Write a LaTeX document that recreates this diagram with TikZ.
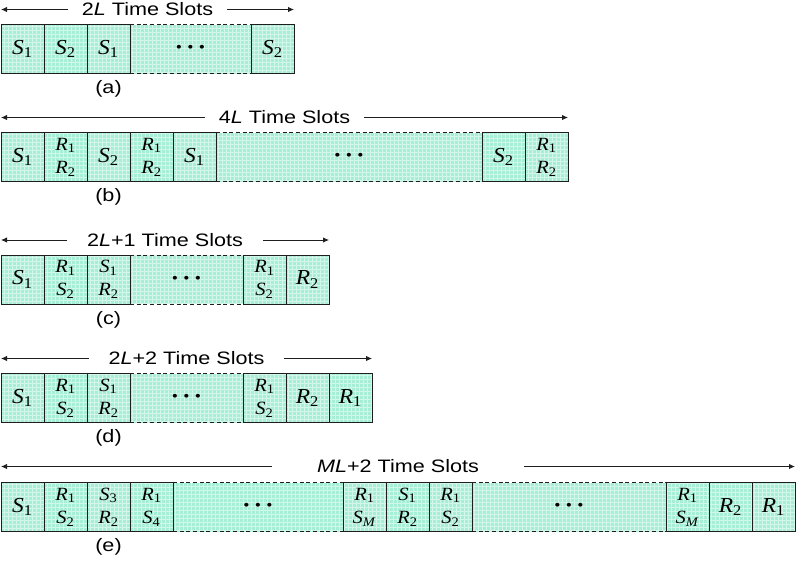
\documentclass[tikz,border=0pt]{standalone}
\usepackage{fontspec}
\setmainfont[FakeStretch=1.2]{Liberation Sans}
\newfontfamily\tnr[FakeStretch=1.1]{Liberation Serif}
\usetikzlibrary{arrows.meta,positioning}
\definecolor{slotfill}{RGB}{166,238,214}
\definecolor{slotline}{RGB}{30,30,30}
\newcommand{\px}{0.75pt}
\newcommand{\sy}[2]{\textit{#1}\textsubscript{#2}}
\newcommand{\slotdots}{{\fontsize{12}{12}\selectfont\tnr\textbullet\hspace{4pt}\textbullet\hspace{4pt}\textbullet}}

\begin{document}
\begin{tikzpicture}[x=0.75pt, y=-0.75pt,
    cell/.style={rectangle, draw=slotline, line width=0.7pt, fill=slotfill,
                 minimum width=43*\px, minimum height=49*\px, inner sep=0pt, outer sep=0pt,
                 align=center, font=\tnr\fontsize{16}{18}\selectfont,
                 path picture={\draw[white, line width=0.35pt, opacity=0.5, step=3pt]
                   (path picture bounding box.south west) grid (path picture bounding box.north east);}},
    cell2/.style={cell, font=\tnr\fontsize{14}{17.5}\selectfont},
    gap/.style={cell, draw=none, minimum width=#1*\px},
    gapline/.style={draw=slotline, line width=0.7pt, dashed, dash pattern=on 3pt off 2pt},
    edgeline/.style={draw=slotline, line width=0.7pt},
    span/.style={{Latex[length=4.5pt,width=4pt]}-{Latex[length=4.5pt,width=4pt]}, line width=0.6pt, slotline},
    spanlabel/.style={fill=white, inner xsep=14*\px, inner ysep=1pt, text=black,
                      font=\fontsize{13.5}{15}\selectfont},
    caption/.style={font=\fontsize{13.5}{15}\selectfont, inner sep=0pt}
  ]
  \useasboundingbox (0,0) rectangle (796,565);

  % (a) 2L time slots
  \node[cell]                    (a1) at (22.5,49) {\sy{S}{1}};
  \node[cell, right=0pt of a1]   (a2) {\sy{S}{2}};
  \node[cell, right=0pt of a2]   (a3) {\sy{S}{1}};
  \node[gap=121, right=0pt of a3] (a4) {\slotdots};
  \node[cell, right=0pt of a4]   (a5) {\sy{S}{2}};
  \draw[gapline] (a4.north west) -- (a4.north east) (a4.south west) -- (a4.south east);
  \draw[edgeline] (a4.north west) -- (a4.south west);
  \draw[span] ([yshift=15*\px]a1.north west) -- node[spanlabel] {2\textit{L} Time Slots} ([yshift=15*\px]a5.north east);
  \node[caption] (capa) at ([yshift=-15.5*\px]a3.south) {(a)};

  % (b) 4L time slots
  \node[cell]                     (b1) at (22.5,157) {\sy{S}{1}};
  \node[cell2, right=0pt of b1]   (b2) {\sy{R}{1}\\\sy{R}{2}};
  \node[cell, right=0pt of b2]    (b3) {\sy{S}{2}};
  \node[cell2, right=0pt of b3]   (b4) {\sy{R}{1}\\\sy{R}{2}};
  \node[cell, right=0pt of b4]    (b5) {\sy{S}{1}};
  \node[gap=266, right=0pt of b5] (b6) {\slotdots};
  \node[cell, right=0pt of b6]    (b7) {\sy{S}{2}};
  \node[cell2, right=0pt of b7]   (b8) {\sy{R}{1}\\\sy{R}{2}};
  \draw[gapline] (b6.north west) -- (b6.north east) (b6.south west) -- (b6.south east);
  \draw[edgeline] (b6.north west) -- (b6.south west);
  \draw[span] ([yshift=15*\px]b1.north west) -- node[spanlabel] {4\textit{L} Time Slots} ([yshift=15*\px]b8.north east);
  \node[caption] (capb) at ([yshift=-15.5*\px]b3.south) {(b)};

  % (c) 2L+1 time slots
  \node[cell]                     (c1) at (22.5,279.5) {\sy{S}{1}};
  \node[cell2, right=0pt of c1]   (c2) {\sy{R}{1}\\\sy{S}{2}};
  \node[cell2, right=0pt of c2]   (c3) {\sy{S}{1}\\\sy{R}{2}};
  \node[gap=113, right=0pt of c3] (c4) {\slotdots};
  \node[cell2, right=0pt of c4]   (c5) {\sy{R}{1}\\\sy{S}{2}};
  \node[cell, right=0pt of c5]    (c6) {\sy{R}{2}};
  \draw[gapline] (c4.north west) -- (c4.north east) (c4.south west) -- (c4.south east);
  \draw[edgeline] (c4.north west) -- (c4.south west);
  \draw[span] ([yshift=15*\px]c1.north west) -- node[spanlabel, inner xsep=20*\px] {2\textit{L}+1 Time Slots} ([yshift=15*\px]c6.north east);
  \node[caption] (capc) at ([yshift=-15.5*\px]c3.south) {(c)};

  % (d) 2L+2 time slots
  \node[cell]                     (d1) at (22.5,398) {\sy{S}{1}};
  \node[cell2, right=0pt of d1]   (d2) {\sy{R}{1}\\\sy{S}{2}};
  \node[cell2, right=0pt of d2]   (d3) {\sy{S}{1}\\\sy{R}{2}};
  \node[gap=113, right=0pt of d3] (d4) {\slotdots};
  \node[cell2, right=0pt of d4]   (d5) {\sy{R}{1}\\\sy{S}{2}};
  \node[cell, right=0pt of d5]    (d6) {\sy{R}{2}};
  \node[cell, right=0pt of d6]    (d7) {\sy{R}{1}};
  \draw[gapline] (d4.north west) -- (d4.north east) (d4.south west) -- (d4.south east);
  \draw[edgeline] (d4.north west) -- (d4.south west);
  \draw[span] ([yshift=15*\px]d1.north west) -- node[spanlabel, inner xsep=20*\px] {2\textit{L}+2 Time Slots} ([yshift=15*\px]d7.north east);
  \node[caption] (capd) at ([yshift=-15.5*\px]d3.south) {(d)};

  % (e) ML+2 time slots
  \node[cell]                      (e1) at (22.5,507) {\sy{S}{1}};
  \node[cell2, right=0pt of e1]    (e2) {\sy{R}{1}\\\sy{S}{2}};
  \node[cell2, right=0pt of e2]    (e3) {\sy{S}{3}\\\sy{R}{2}};
  \node[cell2, right=0pt of e3]    (e4) {\sy{R}{1}\\\sy{S}{4}};
  \node[gap=170, right=0pt of e4]  (e5) {\slotdots};
  \node[cell2, right=0pt of e5]    (e6) {\sy{R}{1}\\\sy{S}{\textit{M}}};
  \node[cell2, right=0pt of e6]    (e7) {\sy{S}{1}\\\sy{R}{2}};
  \node[cell2, right=0pt of e7]    (e8) {\sy{R}{1}\\\sy{S}{2}};
  \node[gap=194, right=0pt of e8]  (e9) {\slotdots};
  \node[cell2, right=0pt of e9]    (e10) {\sy{R}{1}\\\sy{S}{\textit{M}}};
  \node[cell, right=0pt of e10]    (e11) {\sy{R}{2}};
  \node[cell, right=0pt of e11]    (e12) {\sy{R}{1}};
  \draw[gapline] (e5.north west) -- (e5.north east) (e5.south west) -- (e5.south east);
  \draw[gapline] (e9.north west) -- (e9.north east) (e9.south west) -- (e9.south east);
  \draw[edgeline] (e5.north west) -- (e5.south west) (e9.north west) -- (e9.south west);
  \draw[span] ([yshift=16*\px]e1.north west) -- node[spanlabel, inner xsep=45*\px] {\textit{ML}+2 Time Slots} ([yshift=16*\px]e12.north east);
  \node[caption] (cape) at ([yshift=-15.5*\px]e3.south) {(e)};
\end{tikzpicture}
\end{document}
